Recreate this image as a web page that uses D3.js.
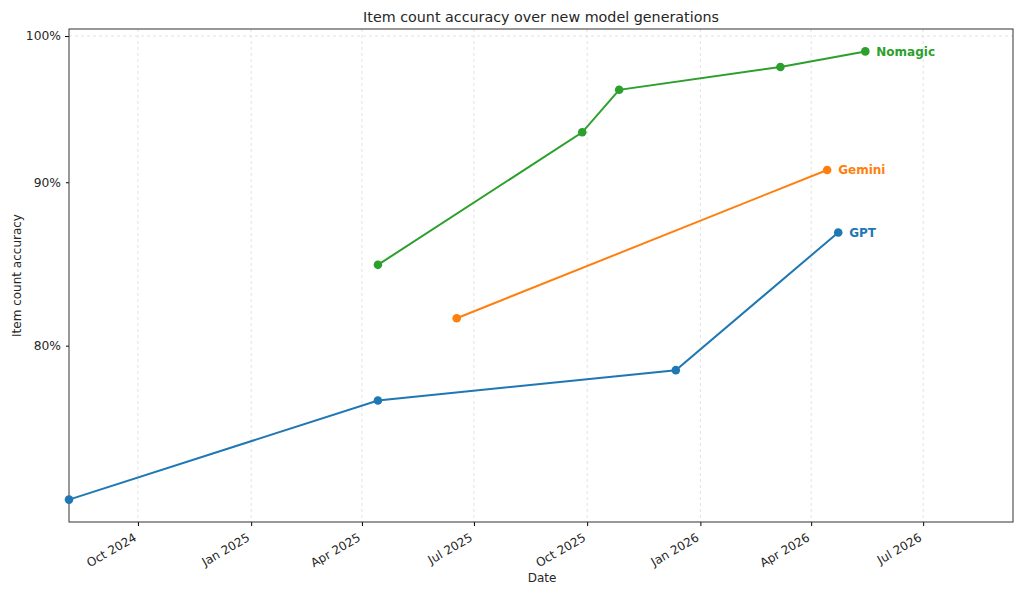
<!DOCTYPE html>
<html>
<head>
<meta charset="utf-8">
<script src="https://cdn.jsdelivr.net/npm/d3@7"></script>
<style>
  body { margin: 0; background: #fff; }
  text { font-family: "DejaVu Sans", sans-serif; }
</style>
</head>
<body>
<div id="chart"></div>
<script>
// data
var gptDates = ["2024-08-06", "2025-04-14", "2025-12-12", "2026-04-23"];
var gptAcc = [0.716, 0.769, 0.786, 0.868];
var geminiDates = ["2025-06-17", "2026-04-14"];
var geminiAcc = [0.816, 0.908];
var nomagicDates = ["2025-04-14", "2025-09-27", "2025-10-27", "2026-03-07", "2026-05-15"];
var nomagicAcc = [0.848, 0.933, 0.962, 0.978, 0.989];
var yTicks = [0.8, 0.9, 1.0];
var xStart = "2024-08-06", xEnd = "2026-09-12";

var parse = d3.timeParse("%Y-%m-%d");
var series = [
  {name: "GPT", color: "#1f77b4", dates: gptDates, acc: gptAcc},
  {name: "Gemini", color: "#ff7f0e", dates: geminiDates, acc: geminiAcc},
  {name: "Nomagic", color: "#2ca02c", dates: nomagicDates, acc: nomagicAcc}
];
series.forEach(function(s) {
  s.points = s.dates.map(function(d, i) { return {date: parse(d), acc: s.acc[i]}; });
});

// set the dimensions and margins of the graph
var margin = {top: 29, right: 11, bottom: 70, left: 69},
    width = 1024 - margin.left - margin.right,
    height = 592 - margin.top - margin.bottom;

var x = d3.scaleTime().domain([parse(xStart), parse(xEnd)]).range([0, width]);

// log scale with 5% margins (in log space) like matplotlib
var allAcc = gptAcc.concat(geminiAcc, nomagicAcc);
var lo = Math.log(d3.min(allAcc)), hi = Math.log(d3.max(allAcc)), pad = (hi - lo) * 0.05;
var y = d3.scaleLog().domain([Math.exp(lo - pad), Math.exp(hi + pad)]).range([height, 0]);

var svg = d3.select("#chart")
  .append("svg")
    .attr("width", 1024)
    .attr("height", 592)
  .append("g")
    .attr("transform", "translate(" + margin.left + "," + margin.top + ")");

var xTicks = d3.timeMonth.every(3).range(parse(xStart), parse(xEnd)).filter(function(d) {
  return d.getMonth() % 3 === 0;
});

// grid
svg.append("g").selectAll("line").data(xTicks).enter().append("line")
    .attr("x1", function(d) { return x(d); })
    .attr("x2", function(d) { return x(d); })
    .attr("y1", 0).attr("y2", height)
    .attr("stroke", "#d9d9d9").attr("stroke-width", 0.8)
    .attr("stroke-dasharray", "3,3");
svg.append("line")
    .attr("x1", 0).attr("x2", width)
    .attr("y1", y(1.0)).attr("y2", y(1.0))
    .attr("stroke", "#d9d9d9").attr("stroke-width", 0.8)
    .attr("stroke-dasharray", "3,3");

// X Axis
var xAxis = svg.append("g")
    .attr("transform", "translate(0," + height + ")")
    .call(d3.axisBottom(x).tickValues(xTicks).tickFormat(d3.timeFormat("%b %Y")).tickSizeOuter(0).tickSize(4));
xAxis.selectAll("text")
    .attr("font-size", "12px")
    .attr("fill", "#262626")
    .style("text-anchor", "end")
    .attr("x", 0).attr("y", 0).attr("dy", 0)
    .attr("transform", "translate(-1,18) rotate(-30)");

// Y Axis
var yAxis = svg.append("g")
    .call(d3.axisLeft(y).tickValues(yTicks).tickFormat(d3.format(".0%")).tickSizeOuter(0).tickSize(3).tickPadding(5));
yAxis.selectAll("text").attr("font-size", "12.3px").attr("fill", "#262626");
yAxis.selectAll(".tick line").attr("x2", function(d) { return d === 1.0 ? -4 : -3; });

svg.selectAll(".domain").remove();
svg.append("rect")
    .attr("width", width).attr("height", height)
    .attr("fill", "none").attr("stroke", "#333").attr("stroke-width", 1);

// lines
var line = d3.line()
    .x(function(d) { return x(d.date); })
    .y(function(d) { return y(d.acc); });

var g = svg.selectAll(".series").data(series).enter().append("g");
g.append("path")
    .attr("d", function(s) { return line(s.points); })
    .attr("fill", "none")
    .attr("stroke", function(s) { return s.color; })
    .attr("stroke-width", 2);
g.selectAll("circle").data(function(s) { return s.points.map(function(p) { return {p: p, c: s.color}; }); })
  .enter().append("circle")
    .attr("cx", function(d) { return x(d.p.date); })
    .attr("cy", function(d) { return y(d.p.acc); })
    .attr("r", 4.3)
    .attr("fill", function(d) { return d.c; });
g.append("text")
    .attr("x", function(s) { return x(s.points[s.points.length - 1].date) + 11; })
    .attr("y", function(s) { return y(s.points[s.points.length - 1].acc); })
    .attr("dy", "0.35em")
    .attr("font-size", "12px")
    .attr("font-weight", "bold")
    .attr("fill", function(s) { return s.color; })
    .text(function(s) { return s.name; });

// labels
svg.append("text")
    .attr("x", width / 2).attr("y", -7)
    .attr("text-anchor", "middle")
    .attr("font-size", "14.3px").attr("fill", "#262626")
    .text("Item count accuracy over new model generations");
svg.append("text")
    .attr("x", width / 2 + 1).attr("y", height + 60)
    .attr("text-anchor", "middle")
    .attr("font-size", "12px").attr("fill", "#262626")
    .text("Date");
svg.append("text")
    .attr("transform", "translate(" + (-48) + "," + (height / 2) + ") rotate(-90)")
    .attr("text-anchor", "middle")
    .attr("font-size", "12px").attr("fill", "#262626")
    .text("Item count accuracy");
</script>
</body>
</html>
